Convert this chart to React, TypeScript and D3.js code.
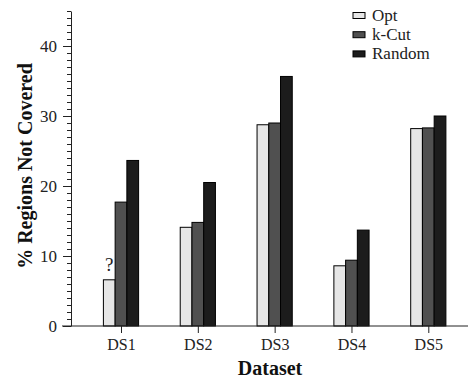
import * as d3 from 'd3';
import React, { useEffect, useRef } from 'react';

const categories = ['DS1', 'DS2', 'DS3', 'DS4', 'DS5'];
const seriesNames = ['Opt', 'k-Cut', 'Random'];
const optValues = [6.6, 14.1, 28.75, 8.6, 28.2];
const kcutValues = [17.7, 14.8, 29.0, 9.4, 28.3];
const randomValues = [23.65, 20.5, 35.65, 13.7, 30.0];
const majorTicks = [0, 10, 20, 30, 40];
const colors = ['#e6e6e6', '#505050', '#1c1c1c'];

const FONT = '"Liberation Serif", "Times New Roman", serif';

const App = () => {
  const ref = useRef(null);

  useEffect(() => {
    const svg = d3.select(ref.current);
    svg.selectAll('*').remove();

    const series = [optValues, kcutValues, randomValues];
    const data = categories.map((c, i) => ({
      cat: c,
      values: series.map((s, j) => ({ name: seriesNames[j], value: s[i] })),
    }));

    const x = d3.scalePoint().domain(categories).range([121, 428.3]);
    const xInner = d3.scaleBand().domain(seriesNames).range([-17.6, 17.6]);
    const y = d3.scaleLinear().domain([0, 45]).range([326, 11]);
    const color = d3.scaleOrdinal().domain(seriesNames).range(colors);

    // bars
    const groups = svg
      .append('g')
      .attr('class', 'bars')
      .selectAll('g')
      .data(data)
      .enter()
      .append('g')
      .attr('transform', d => 'translate(' + x(d.cat) + ',0)');

    groups
      .selectAll('rect')
      .data(d => d.values)
      .enter()
      .append('rect')
      .attr('x', d => xInner(d.name))
      .attr('y', d => y(d.value))
      .attr('width', xInner.bandwidth())
      .attr('height', d => y(0) - y(d.value))
      .attr('fill', d => color(d.name))
      .attr('stroke', '#000')
      .attr('stroke-width', 1);

    // question mark over DS1 Opt
    svg
      .append('text')
      .attr('x', x('DS1') + xInner('Opt') + xInner.bandwidth() / 2)
      .attr('y', y(optValues[0]) - 9)
      .attr('text-anchor', 'middle')
      .attr('font-family', FONT)
      .attr('font-size', 19)
      .attr('fill', '#222')
      .text('?');

    // y axis minor ticks
    const minor = svg
      .append('g')
      .attr('transform', 'translate(71,0)')
      .call(
        d3
          .axisLeft(y)
          .tickValues(d3.range(0, 46, 1))
          .tickSize(4)
          .tickFormat(() => '')
      );
    minor.select('.domain').remove();

    // y axis major
    const yAxis = svg
      .append('g')
      .attr('transform', 'translate(71,0)')
      .call(
        d3
          .axisLeft(y)
          .tickValues(majorTicks)
          .tickSize(8)
          .tickPadding(6)
          .tickSizeOuter(0)
      );
    yAxis
      .selectAll('text')
      .attr('font-family', FONT)
      .attr('font-size', 17)
      .attr('fill', '#222');
    svg.selectAll('.tick line').attr('stroke', '#222');
    yAxis.select('.domain').attr('stroke', '#222');

    // x axis
    svg
      .append('line')
      .attr('x1', 62)
      .attr('x2', 468)
      .attr('y1', y(0))
      .attr('y2', y(0))
      .attr('stroke', '#222');

    const xAxis = svg
      .append('g')
      .attr('transform', 'translate(0,' + y(0) + ')')
      .call(d3.axisBottom(x).tickSize(7).tickPadding(6).tickSizeOuter(0));
    xAxis.select('.domain').remove();
    xAxis.selectAll('line').attr('stroke', '#222');
    xAxis
      .selectAll('text')
      .attr('font-family', FONT)
      .attr('font-size', 16)
      .attr('fill', '#222');

    // axis titles
    svg
      .append('text')
      .attr('x', 270)
      .attr('y', 375)
      .attr('text-anchor', 'middle')
      .attr('font-family', FONT)
      .attr('font-weight', 'bold')
      .attr('font-size', 20)
      .attr('fill', '#111')
      .text('Dataset');

    svg
      .append('text')
      .attr('transform', 'translate(32,166) rotate(-90)')
      .attr('text-anchor', 'middle')
      .attr('font-family', FONT)
      .attr('font-weight', 'bold')
      .attr('font-size', 20)
      .attr('fill', '#111')
      .text('% Regions Not Covered');

    // legend
    const legendItem = svg
      .append('g')
      .attr('class', 'legends')
      .attr('transform', 'translate(353,0)')
      .selectAll('.legend')
      .data(seriesNames)
      .enter()
      .append('g')
      .attr('class', 'legend')
      .attr('transform', (d, i) => 'translate(0,' + (20.5 + i * 19.2) + ')');

    legendItem
      .append('rect')
      .attr('x', 0)
      .attr('y', -8)
      .attr('width', 12)
      .attr('height', 6)
      .attr('fill', d => color(d))
      .attr('stroke', '#000');

    legendItem
      .append('text')
      .attr('x', 19)
      .attr('y', 0)
      .attr('font-family', FONT)
      .attr('font-size', 17)
      .attr('fill', '#222')
      .text(d => d);
  }, []);

  return (
    <svg
      ref={ref}
      width={468}
      height={379}
      style={{ position: 'absolute', left: 0, top: 0, background: '#fff' }}
    />
  );
};

export default App;
